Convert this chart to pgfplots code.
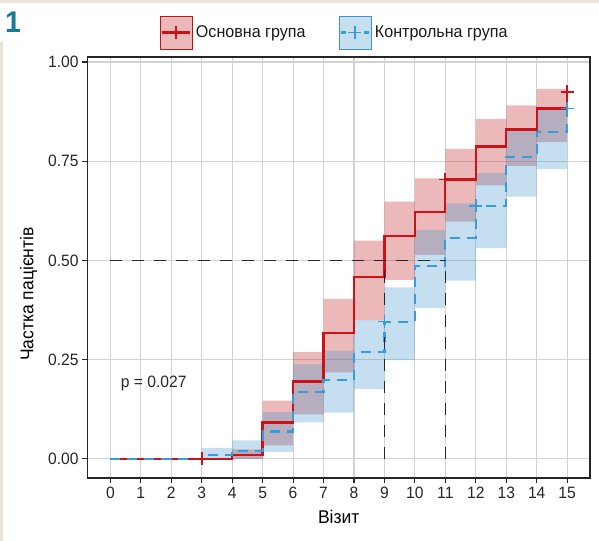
\documentclass[border=0pt]{standalone}
\usepackage{fontspec}
\setmainfont{Liberation Sans}[FakeStretch=0.95]
\usepackage{pgfplots}
\pgfplotsset{compat=1.18}
\usepgfplotslibrary{fillbetween}
\definecolor{redline}{HTML}{CC1117}
\definecolor{redband}{HTML}{BC1616}
\definecolor{blueline}{HTML}{3A9BDC}
\definecolor{blueband}{HTML}{3E94CD}
\definecolor{tealone}{HTML}{1A7A94}
\definecolor{beige}{HTML}{ECE4D8}
\definecolor{gridc}{HTML}{D2D2D2}
\begin{document}
\begin{tikzpicture}
\fill[beige] (0bp,537.7bp) rectangle (599bp,541bp);
\fill[beige] (0bp,0bp) rectangle (2.7bp,499bp);
\node[anchor=base west, inner sep=0pt, text=tealone, font=\fontsize{30}{31}\selectfont\bfseries] at (5bp,508bp) {1};
\begin{axis}[
  at={(87.5bp,63bp)}, anchor=south west,
  scale only axis, width=502.5bp, height=421bp,
  xmin=-0.75, xmax=15.75, ymin=-0.048, ymax=1.0126,
  xtick={0,1,2,3,4,5,6,7,8,9,10,11,12,13,14,15},
  xticklabels={0,1,2,3,4,5,6,7,8,9,10,11,12,13,14,15},
  ytick={0,0.25,0.5,0.75,1},
  yticklabels={0.00,0.25,0.50,0.75,1.00},
  /pgf/number format/assume math mode=true,
  xtick pos=bottom, ytick pos=left,
  tick align=outside, major tick length=5.5bp,
  tick style={black!85, line width=1.1bp},
  axis line style={black!85, line width=1.1bp},
  grid=major, major grid style={gridc, line width=1.1bp},
  tick label style={font=\fontsize{16.5}{18}\selectfont, text=black!85},
  xlabel={Візит}, ylabel={Частка пацієнтів},
  label style={font=\fontsize{18.5}{20}\selectfont, text=black},
  xlabel style={at={(axis description cs:0.5,-0.1069)}, anchor=base},
  ylabel style={at={(axis description cs:-0.1075,0.437)}, anchor=base},
  legend columns=2,
  legend style={draw=none, fill=none, inner sep=0pt, at={(0.4896,1.058)}, anchor=center,
    nodes={inner sep=0pt, font=\fontsize{17}{19}\selectfont, text=black!90},
    /tikz/every odd column/.append style={column sep=4bp},
    /tikz/every even column/.append style={column sep=33bp}},
  legend cell align=left,
]
% step lines
\addplot[redline, line width=2.3bp, const plot, forget plot] coordinates {
 (0,0)(1,0)(2,0)(3,0)(4,0.010)(5,0.092)(6,0.195)(7,0.317)(8,0.459)(9,0.562)
 (10,0.622)(11,0.704)(12,0.787)(13,0.830)(14,0.883)(15,0.925)};
\addplot[blueline, line width=2.2bp, const plot, dash pattern=on 10bp off 7bp, forget plot] coordinates {
 (0,0)(1,0)(2,0)(3,0.010)(4,0.021)(5,0.069)(6,0.169)(7,0.199)(8,0.269)(9,0.346)
 (10,0.487)(11,0.557)(12,0.638)(13,0.761)(14,0.824)(15,0.883)};
% confidence bands
\addplot[name path=rU, draw=none, const plot, forget plot] coordinates {
 (4,0.024)(5,0.147)(6,0.269)(7,0.403)(8,0.550)(9,0.648)(10,0.707)(11,0.781)
 (12,0.856)(13,0.891)(14,0.932)(15,0.932)};
\addplot[name path=rL, draw=none, const plot, forget plot] coordinates {
 (4,0.0)(5,0.034)(6,0.112)(7,0.218)(8,0.350)(9,0.451)(10,0.514)(11,0.598)
 (12,0.689)(13,0.738)(14,0.798)(15,0.798)};
\addplot[redband, fill opacity=0.3, draw=none, forget plot] fill between[of=rU and rL];
\addplot[name path=bU, draw=none, const plot, forget plot] coordinates {
 (3,0.028)(4,0.047)(5,0.118)(6,0.238)(7,0.272)(8,0.350)(9,0.432)(10,0.577)
 (11,0.644)(12,0.720)(13,0.829)(14,0.881)(15,0.881)};
\addplot[name path=bL, draw=none, const plot, forget plot] coordinates {
 (3,0.0)(4,0.0)(5,0.018)(6,0.092)(7,0.117)(8,0.176)(9,0.249)(10,0.380)
 (11,0.449)(12,0.531)(13,0.661)(14,0.730)(15,0.730)};
\addplot[blueband, fill opacity=0.3, draw=none, forget plot] fill between[of=bU and bL];
% censor marks
\addplot[redline, only marks, mark=+, mark size=6.5bp, mark options={line width=1.7bp}, forget plot]
 coordinates {(3,0)(11,0.704)(15,0.925)};
\addplot[blueline, only marks, mark=+, mark size=6.5bp, mark options={line width=1.7bp}, forget plot]
 coordinates {(9,0.346)(12,0.638)(15,0.883)};
% median lines
\addplot[black!85, line width=1.3bp, dash pattern=on 12bp off 10bp, forget plot] coordinates {(0,0.5)(11,0.5)};
\addplot[black!85, line width=1.3bp, dash pattern=on 12bp off 10bp, forget plot] coordinates {(9,0)(9,0.5)};
\addplot[black!85, line width=1.3bp, dash pattern=on 12bp off 10bp, forget plot] coordinates {(11,0)(11,0.5)};
\node[anchor=base west, inner sep=0pt, font=\fontsize{16.5}{18}\selectfont, text=black!85] at (axis cs:0.34,0.179) {p = 0.027};
% legend
\addlegendimage{legend image code/.code={
  \fill[redband, fill opacity=0.3] (0bp,-16.5bp) rectangle (32bp,16.5bp);
  \draw[redline, line width=2.3bp] (2bp,0bp) -- (30bp,0bp);
  \draw[redline, line width=1.7bp] (16bp,-6.5bp) -- (16bp,6.5bp) (9.5bp,0bp) -- (22.5bp,0bp);}}
\addlegendentry{Основна група}
\addlegendimage{legend image code/.code={
  \fill[blueband, fill opacity=0.3] (0bp,-16.5bp) rectangle (32bp,16.5bp);
  \draw[blueline, line width=2.2bp] (2bp,0bp) -- (7bp,0bp) (25bp,0bp) -- (30bp,0bp);
  \draw[blueline, line width=1.7bp] (16bp,-6.5bp) -- (16bp,6.5bp) (9.5bp,0bp) -- (22.5bp,0bp);}}
\addlegendentry{Контрольна група}
\end{axis}
\pgfresetboundingbox
\useasboundingbox (0bp,0bp) rectangle (599bp,541bp);
\end{tikzpicture}
\end{document}
